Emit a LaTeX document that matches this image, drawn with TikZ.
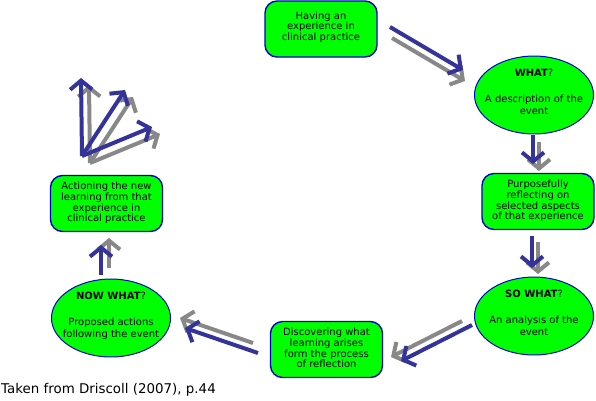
\documentclass[tikz,border=0pt]{standalone}
\usepackage{fontspec}
\setmainfont{DejaVu Sans}
\usetikzlibrary{shapes.geometric,arrows.meta}
\definecolor{stagegreen}{HTML}{00FF00}
\definecolor{edgeblue}{HTML}{0000CC}
\definecolor{arrowblue}{HTML}{333399}
\definecolor{arrowgray}{HTML}{888888}
\newcommand{\stagetext}[1]{\begin{tabular}{@{}c@{}}#1\end{tabular}}
\newcommand{\asktext}[1]{\makebox[0pt]{\begin{tabular}{@{}c@{}}#1\\[4pt]\end{tabular}}}
\begin{document}
\begin{tikzpicture}[x=1pt,y=-1pt]
 \tikzset{stage/.style={draw=edgeblue, line width=1.4pt, fill=stagegreen, rounded corners=12pt,
   minimum width=112pt, minimum height=56pt, inner sep=0pt, font=\fontsize{10}{10.4}\selectfont},
  ask/.style={draw=edgeblue, line width=1pt, fill=stagegreen, ellipse,
   minimum width=119pt, minimum height=71pt, inner sep=0pt, font=\fontsize{10}{12.7}\selectfont},
  flow/.style={line width=4pt, draw=arrowblue, -{Straight Barb[length=9pt,width=22pt]}},
  shade/.style={flow, draw=arrowgray, transform canvas={shift={#1}}}}
  \useasboundingbox (0,0) rectangle (596,400);
  \node[stage] (exp) at (321,29) {\stagetext{Having an\\experience in\\clinical practice\\[3pt]}};
  \node[ask] (what) at (534,95) {\asktext{\textbf{WHAT}?\\[13pt]A description of the\\event}};
  \node[stage] (reflect) at (538,201.5) {\stagetext{Purposefully\\reflecting on\\selected aspects\\of that experience}};
  \node[ask] (sowhat) at (534,316) {\asktext{\textbf{SO WHAT}?\\[13pt]An analysis of the\\event}};
  \node[stage] (discover) at (326.5,349.5) {\stagetext{Discovering what\\learning arises\\form the process\\of reflection}};
  \node[ask] (nowwhat) at (111,318) {\asktext{\textbf{NOW WHAT}?\\[13pt]Proposed actions\\following the event}};
  \node[stage] (action) at (106.5,203.5) {\stagetext{Actioning the new\\learning from that\\experience in\\clinical practice}};
  \node[anchor=base west, inner sep=0pt, font=\fontsize{13.4}{16}\selectfont] (source) at (1,393) {Taken from Driscoll (2007), p.44};
  % arrow ends
  \coordinate (e1) at (390,27);  \coordinate (w1) at (463,70);
  \coordinate (w2) at (533,135); \coordinate (r1) at (533,164);
  \coordinate (r2) at (532,236); \coordinate (s1) at (532,268);
  \coordinate (s2) at (472,325); \coordinate (d1) at (401,361);
  \coordinate (d2) at (258,353); \coordinate (n1) at (185,328);
  \coordinate (n2) at (101,275); \coordinate (a1) at (101,245);
  \coordinate (a2) at (82,156);
  \coordinate (f1) at (81,78); \coordinate (f2) at (125,90); \coordinate (f3) at (152,127);
  % grey shadows first
  \draw[shade={(2,11)}] (e1) -- (w1);
  \draw[shade={(6,7)}] (w2) -- (r1);
  \draw[shade={(6,6)}] (r2) -- (s1);
  \draw[shade={(-10,-4)}] (s2) -- (d1);
  \draw[shade={(-5,-10)}] (d2) -- (n1);
  \draw[shade={(8,-7)}] (n2) -- (a1);
  \draw[shade={(8,7)}] (a2) -- (f1);
  \draw[shade={(8,7)}] (a2) -- (f2);
  \draw[shade={(8,7)}] (a2) -- (f3);
  % blue arrows
  \draw[flow] (e1) -- (w1);
  \draw[flow] (w2) -- (r1);
  \draw[flow] (r2) -- (s1);
  \draw[flow] (s2) -- (d1);
  \draw[flow] (d2) -- (n1);
  \draw[flow] (n2) -- (a1);
  \draw[flow] (a2) -- (f1);
  \draw[flow] (a2) -- (f2);
  \draw[flow] (a2) -- (f3);
\end{tikzpicture}
\end{document}
